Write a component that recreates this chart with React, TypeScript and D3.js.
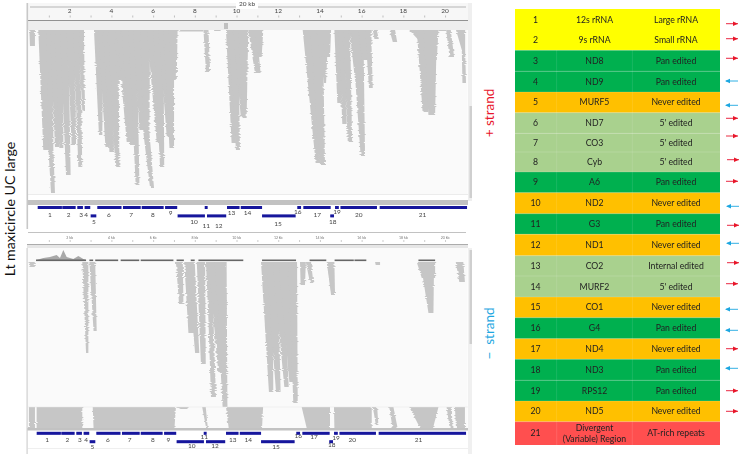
import React from "react";
import * as d3 from "d3";

// one stack of reads, traced down through [left kb, right kb, depth in reads]
type Station = [number, number, number];
type Lane = Station[];

const topLanes: Lane[] = [
  [[0.04, 0.31, 0], [0.07, 0.31, 16]],
  [[0.47, 1.03, 0], [0.71, 1.0, 120]],
  [[0.87, 1.19, 0], [0.95, 1.19, 117], [1.08, 1.27, 163]],
  [[1.03, 1.51, 0], [1.27, 1.48, 117]],
  [[1.27, 1.67, 0], [1.48, 1.67, 118]],
  [[1.51, 1.91, 0], [1.8, 2.02, 145]],
  [[1.83, 2.23, 0], [2.07, 2.28, 115]],
  [[2.15, 2.47, 0], [2.39, 2.58, 137]],
  [[2.39, 2.66, 0], [2.58, 2.71, 81]],
  [[3.14, 3.59, 0], [3.38, 3.54, 105]],
  [[3.35, 3.83, 0], [3.69, 3.88, 117]],
  [[3.59, 4.07, 0], [3.88, 4.1, 122]],
  [[3.83, 4.31, 0], [4.16, 4.36, 137]],
  [[4.15, 4.71, 0], [4.26, 4.47, 50]],
  [[4.23, 4.79, 0], [4.71, 4.87, 112]],
  [[4.47, 5.11, 0], [4.87, 5.11, 115]],
  [[4.79, 5.19, 0], [5.14, 5.32, 155]],
  [[5.03, 5.51, 0], [5.32, 5.67, 100]],
  [[5.35, 5.83, 0], [5.51, 5.8, 103], [5.83, 6.02, 158]],
  [[5.67, 6.23, 0], [6.15, 6.31, 112]],
  [[5.99, 6.47, 0], [6.31, 6.51, 137]],
  [[6.23, 6.71, 0], [6.63, 6.82, 107]],
  [[6.47, 6.98, 0], [6.76, 6.98, 118]],
  [[6.71, 7.15, 0], [6.98, 7.11, 50]],
  [[7.19, 8.38, 0], [7.27, 8.38, 1.5]],
  [[8.39, 8.63, 0], [8.51, 8.71, 42]],
  [[8.95, 9.26, 0], [8.95, 9.26, 1]],
  [[9.47, 9.82, 0], [9.74, 9.95, 113]],
  [[9.58, 10.06, 0], [9.95, 10.14, 120]],
  [[9.82, 10.22, 0], [10.18, 10.38, 87]],
  [[10.06, 10.54, 0], [10.27, 10.46, 88]],
  [[10.54, 10.94, 0], [10.86, 11.13, 43]],
  [[10.78, 11.26, 0], [11.02, 11.18, 27]],
  [[13.15, 13.82, 0], [13.77, 13.98, 133]],
  [[13.5, 14.11, 0], [13.98, 14.22, 135]],
  [[13.82, 14.38, 0], [14.17, 14.27, 53]],
  [[14.11, 14.51, 0], [14.22, 14.46, 27]],
  [[14.67, 14.94, 0], [14.81, 15.02, 73]],
  [[14.86, 15.18, 0], [15.05, 15.26, 94]],
  [[15.1, 15.42, 0], [15.31, 15.52, 112]],
  [[15.39, 15.82, 0], [15.66, 15.82, 50]],
  [[15.5, 16.06, 0], [15.93, 16.14, 126]],
  [[15.82, 16.46, 0], [15.98, 16.38, 30]],
  [[16.14, 16.43, 0], [16.33, 16.51, 58]],
  [[16.51, 16.7, 0], [16.59, 16.8, 9]],
  [[17.31, 17.58, 0], [17.47, 17.68, 12]],
  [[18.26, 19.1, 0], [18.7, 19.26, 10]],
  [[18.62, 19.18, 0], [18.9, 19.18, 82]],
  [[18.94, 19.58, 0], [19.18, 19.5, 85]],
  [[19.26, 19.66, 0], [19.42, 19.58, 30]],
  [[19.66, 20.03, 0], [19.66, 20.03, 1]],
  [[20.03, 20.25, 0], [20.19, 20.41, 27]],
  [[20.5, 20.94, 0], [20.78, 20.94, 20], [20.81, 20.98, 53]],
];

const bottomLanes: Lane[] = [
  [[0.0, 0.3, 0], [0.05, 0.3, 5]],
  [[2.58, 2.87, 0], [2.76, 2.87, 91]],
  [[2.92, 3.2, 0], [3.12, 3.27, 69]],
  [[7.07, 7.4, 0], [7.22, 7.43, 42]],
  [[7.47, 7.95, 0], [7.67, 7.99, 71]],
  [[7.62, 7.97, 0], [7.99, 8.19, 91]],
  [[8.07, 8.47, 0], [8.27, 8.5, 102]],
  [[8.51, 8.87, 0], [8.63, 8.87, 58], [8.75, 8.99, 135]],
  [[8.63, 9.18, 0], [9.1, 9.35, 110]],
  [[8.94, 9.5, 0], [9.31, 9.54, 145]],
  [[11.15, 11.7, 0], [11.53, 11.74, 130]],
  [[11.4, 11.95, 0], [11.87, 12.09, 130]],
  [[11.7, 12.2, 0], [12.27, 12.48, 125]],
  [[12.0, 12.5, 0], [12.51, 12.7, 120]],
  [[12.45, 12.88, 0], [12.7, 12.91, 141]],
  [[13.02, 13.3, 0], [13.05, 13.26, 23]],
  [[13.3, 13.55, 0], [13.5, 13.66, 21]],
  [[14.3, 14.67, 0], [14.51, 14.7, 33]],
  [[16.62, 16.86, 0], [16.65, 16.86, 3]],
  [[18.62, 19.5, 0], [18.86, 19.5, 16]],
  [[18.8, 19.45, 0], [19.18, 19.42, 51]],
  [[20.49, 20.85, 0], [20.66, 20.93, 20]],
];

// saturated strip under the lower panel
const stripLanes: Lane[] = [
  [[0.02, 0.31, 0], [0.02, 0.31, 21]],
  [[0.39, 2.58, 0], [0.39, 2.58, 21]],
  [[3.08, 7.07, 0], [3.12, 7.0, 21]],
  [[7.1, 7.7, 0], [7.3, 7.6, 2]],
  [[8.33, 8.5, 0], [8.52, 8.6, 21]],
  [[9.47, 11.25, 0], [9.6, 11.2, 21]],
  [[13.1, 14.46, 0], [13.34, 14.46, 21]],
  [[14.65, 16.46, 0], [14.67, 16.46, 21]],
  [[16.51, 16.72, 0], [16.66, 16.78, 18]],
  [[17.3, 17.5, 0], [17.46, 17.7, 21]],
  [[18.26, 19.66, 0], [18.78, 19.4, 21]],
  [[20.05, 20.3, 0], [20.2, 20.33, 21]],
  [[20.45, 20.93, 0], [20.5, 20.93, 21]],
];

type Pt = [number, number];
const lowerCoverage: Pt[] = [[0.39, 0], [0.71, 2], [1.03, 3], [1.35, 5], [1.51, 2], [1.67, 10], [1.83, 3], [2.15, 1], [2.39, 4], [2.63, 1], [2.76, 0]];
const lowerSegments: number[][] = [[0.36, 2.76], [2.92, 3.1], [3.2, 4.3], [4.42, 5.31], [5.38, 6.95], [7.1, 7.45], [7.78, 7.97], [8.15, 10.3], [11.2, 12.83], [13.48, 14.28], [14.68, 15.6], [15.63, 16.2], [18.7, 19.5]];

const geneNames = d3.range(1, 22).map(String);
const geneStart = [0.44, 1.62, 2.34, 2.69, 2.98, 3.3, 4.53, 5.43, 6.55, 7.15, 8.45, 8.56, 9.52, 10.18, 11.2, 12.89, 13.18, 14.47, 14.7, 14.96, 16.84];
const geneEnd = [1.62, 2.28, 2.63, 2.98, 3.27, 4.48, 5.4, 6.5, 7.15, 8.48, 8.61, 9.5, 10.14, 11.22, 12.83, 13.09, 14.51, 14.67, 14.9, 16.73, 21.05];
const geneLower = [5, 10, 12, 15, 18];
const topLabelKb = [1.03, 1.93, 2.52, 2.77, 3.13, 3.86, 4.92, 5.96, 6.82, 7.94, 8.53, 9.12, 9.74, 10.5, 11.97, 12.91, 13.85, 14.59, 14.8, 15.84, 18.89];
const bottomLabelKb = [0.89, 1.86, 2.47, 2.76, 3.06, 3.81, 4.85, 5.97, 6.71, 7.83, 8.43, 8.94, 9.8, 10.54, 11.87, 12.94, 13.69, 14.54, 14.75, 15.53, 18.7];

const tableGene = ["12s rRNA", "9s rRNA", "ND8", "ND9", "MURF5", "ND7", "CO3", "Cyb", "A6", "ND2", "G3", "ND1", "CO2", "MURF2", "CO1", "G4", "ND4", "ND3", "RPS12", "ND5", "Divergent|(Variable) Region"];
const tableClass = ["Large rRNA", "Small rRNA", "Pan edited", "Pan edited", "Never edited", "5' edited", "5' edited", "5' edited", "Pan edited", "Never edited", "Pan edited", "Never edited", "Internal edited", "5' edited", "Never edited", "Pan edited", "Never edited", "Pan edited", "Pan edited", "Never edited", "AT-rich repeats"];
const tableStrand = [1, 1, 1, -1, -1, 1, 1, 1, 1, -1, 1, -1, 1, 1, -1, -1, 1, -1, 1, 1];
const arrowLag = [0, 0, 0, 0, 0, 0, 0, 1, 0, 1, 1, 1, 1, 0, 0, 0, 0, 0, 0, 0];

const classColor = d3
  .scaleOrdinal<string, string>()
  .domain(["Large rRNA", "Small rRNA", "Pan edited", "Never edited", "5' edited", "Internal edited", "AT-rich repeats"])
  .range(["#ffff00", "#ffff00", "#00b050", "#ffc000", "#a9d18e", "#a9d18e", "#ff5050"]);

// layout
const rowEdges = [9, 30, 50.3, 71.3, 92, 112.7, 133.3, 152, 172, 192.7, 213.7, 234.3, 255.7, 276, 297, 317.7, 338.7, 359.3, 380.3, 401, 421.7, 445];
const arrowRows = [23.7, 38.7, 58.3, 81, 105.3, 118.3, 136, 159.7, 181.3, 206.3, 225.3, 243.3, 262.7, 283.7, 309.3, 330.3, 348.7, 368.3, 390.7, 411.3];
const topLabelY: Record<number, number> = { 5: 222, 9: 213, 10: 222, 11: 226, 12: 226, 13: 213, 14: 213, 15: 224, 16: 212, 18: 222, 19: 212 };
const bottomLabelY: Record<number, number> = { 5: 447, 10: 446, 11: 437, 12: 446, 15: 447, 16: 436, 17: 437, 18: 445, 19: 438 };

const x = d3.scaleLinear().domain([0, 21]).range([28.5, 466.4]);
const xLow = d3.scaleLinear().domain([0, 21]).range([27.5, 465.4]);
const kbTicks = d3.range(1, 21);
const evenTicks = kbTicks.filter((k) => k % 2 === 0);

const READ = "#c6c6c6";
const PANEL = "#fafafa";
const SANS = "Lato, 'Open Sans', sans-serif";

const Pileups = ({ lanes, top }: { lanes: Lane[]; top: number }) => {
  const y = d3.scaleLinear().domain([0, 100]).range([top, top + 100]);
  const area = d3
    .area<Station>()
    .x0((d) => x(d[0]))
    .x1((d) => x(d[1]))
    .y((d) => y(d[2]));
  return (
    <g filter="url(#reads)">
      {lanes.map((s, i) => (
        <path key={i} d={area(s) ?? ""} fill={READ} />
      ))}
    </g>
  );
};

const GeneTrack = ({ scale, rowA, rowB, labelKb, labelY, baseY }: { scale: d3.ScaleLinear<number, number>; rowA: number; rowB: number; labelKb: number[]; labelY: Record<number, number>; baseY: number }) => (
  <g>
    {geneNames.map((g, i) => (
      <rect key={g} x={scale(geneStart[i])} y={geneLower.includes(i + 1) ? rowB : rowA} width={scale(geneEnd[i]) - scale(geneStart[i]) - 0.4} height={3} fill="#14149c" />
    ))}
    {geneNames.map((g, i) => (
      <text key={g} x={x(labelKb[i])} y={(labelY[i + 1] ?? baseY) + 2.2} fontSize={6.5} fontFamily={SANS} fill="#444" textAnchor="middle">
        {g}
      </text>
    ))}
  </g>
);

const App: React.FC = () => {
  const covY = d3.scaleLinear().domain([0, 10]).range([260, 250]);
  const covArea = d3
    .area<Pt>()
    .x((d) => x(d[0]))
    .y0(260)
    .y1((d) => covY(d[1]));

  return (
    <svg width={741} height={454} style={{ position: "absolute", left: 0, top: 0, background: "#fff" }}>
      <defs>
        <filter id="soft" filterUnits="userSpaceOnUse" x={0} y={0} width={741} height={454}>
          <feGaussianBlur stdDeviation={0.35} />
        </filter>
        {/* rough read ends: sideways shift only, in thin horizontal streaks */}
        <filter id="reads" filterUnits="userSpaceOnUse" x={0} y={0} width={741} height={454} colorInterpolationFilters="sRGB">
          <feTurbulence type="fractalNoise" baseFrequency="0.03 0.9" numOctaves={2} seed={4} result="n" />
          <feColorMatrix in="n" type="matrix" values="1 0 0 0 0  0 0 0 0 0  0 0 0 0 0.5  0 0 0 0 1" result="d" />
          <feDisplacementMap in="SourceGraphic" in2="d" scale={3.5} xChannelSelector="R" yChannelSelector="B" />
        </filter>
      </defs>

      <g filter="url(#soft)">
        {/* top ruler */}
        <rect x={27} y={3} width={445} height={19} fill="#f7f7f7" />
        <line x1={30} x2={466} y1={7} y2={7} stroke="#999" strokeWidth={0.7} />
        <rect x={236} y={1} width={22} height={8} fill="#fff" />
        <text x={247} y={6} fontSize={6.5} fontFamily={SANS} fill="#444" textAnchor="middle">20 kb</text>
        {evenTicks.map((k) => (
          <text key={k} x={x(k) - 0.5} y={13} fontSize={6.5} fontFamily={SANS} fill="#444" textAnchor="middle">{k}</text>
        ))}
        {kbTicks.map((k) => (
          <line key={k} x1={x(k)} x2={x(k)} y1={15.5} y2={17.5} stroke="#999" strokeWidth={0.6} />
        ))}
        <line x1={27} x2={468} y1={20.5} y2={20.5} stroke="#777" strokeWidth={0.8} />

        {/* upper panel */}
        <rect x={27} y={21} width={441} height={9} fill="#eeeeee" />
        <rect x={224} y={23} width={4} height={6} fill="#c0c0c0" />
        <rect x={28.5} y={30} width={439} height={165} fill={PANEL} />
        <Pileups lanes={topLanes} top={30} />
        <line x1={28} x2={468} y1={194.5} y2={194.5} stroke="#ececec" />
        <rect x={27} y={200} width={441} height={5} fill="#c2c2c2" />
        <rect x={26.5} y={3} width={1.6} height={226} fill="#c8c8c8" />
        <rect x={468} y={3} width={4} height={198} fill="#efefef" />
        <rect x={469.5} y={106} width={2.5} height={92} fill="#cfcfcf" />

        <GeneTrack scale={x} rowA={206} rowB={214.4} labelKb={topLabelKb} labelY={topLabelY} baseY={215} />

        {/* lower ruler */}
        <line x1={28} x2={466} y1={232.5} y2={232.5} stroke="#999" strokeWidth={0.6} />
        {evenTicks.map((k) => (
          <text key={k} x={x(k) - 0.5} y={239} fontSize={3.5} fontFamily={SANS} fill="#777" textAnchor="middle">{k} kb</text>
        ))}
        {kbTicks.map((k) => (
          <line key={k} x1={x(k)} x2={x(k)} y1={240} y2={242} stroke="#aaa" strokeWidth={0.6} />
        ))}
        <line x1={27} x2={468} y1={244.5} y2={244.5} stroke="#888" strokeWidth={0.7} />
        <rect x={27} y={245} width={441} height={3} fill="#e6e6e6" />

        {/* lower panel */}
        <rect x={27.5} y={248} width={440} height={180} fill={PANEL} />
        <path d={covArea(lowerCoverage) ?? ""} fill="#a8a8a8" />
        {lowerSegments.map((s) => (
          <rect key={s[0]} x={x(s[0])} y={259.5} width={x(s[1]) - x(s[0])} height={1.6} fill="#666" />
        ))}
        <Pileups lanes={bottomLanes} top={262} />
        <Pileups lanes={stripLanes} top={407} />
        <line x1={28} x2={468} y1={407} y2={407} stroke="#e4e4e4" strokeWidth={0.5} />
        <rect x={27} y={428} width={441} height={2.5} fill="#c2c2c2" />
        <rect x={26.5} y={248} width={1.2} height={206} fill="#d0d0d0" />
        <rect x={468} y={248} width={4} height={206} fill="#f0f0f0" />
        <rect x={469.5} y={250} width={2.5} height={94} fill="#cfcfcf" />
        <line x1={28} x2={468} y1={448.5} y2={448.5} stroke="#e4e4e4" strokeWidth={0.6} />

        <GeneTrack scale={xLow} rowA={431.8} rowB={440.2} labelKb={bottomLabelKb} labelY={bottomLabelY} baseY={440} />

        {/* table */}
        {tableClass.map((c, i) => (
          <rect key={i} x={515} y={rowEdges[i]} width={205} height={rowEdges[i + 1] - rowEdges[i]} fill={classColor(c)} />
        ))}
        {rowEdges.slice(2, -1).map((e) => (
          <line key={e} x1={515} x2={720} y1={e} y2={e} stroke="#fff" strokeOpacity={0.25} strokeWidth={0.6} />
        ))}
        {[556.7, 632.3].map((c) => (
          <line key={c} x1={c} x2={c} y1={50} y2={445} stroke="#fff" strokeOpacity={0.18} strokeWidth={0.6} />
        ))}
        {tableClass.map((c, i) => {
          const cy = (rowEdges[i] + rowEdges[i + 1]) / 2 + 3;
          const lines = tableGene[i].split("|");
          return (
            <g key={i} fontSize={8.7} fontFamily={SANS} fill="#222" textAnchor="middle">
              <text x={535.5} y={cy}>{i + 1}</text>
              {lines.map((l, j) => (
                <text key={j} x={594.5} y={cy + (j - (lines.length - 1) / 2) * 11.2}>{l}</text>
              ))}
              <text x={676} y={cy}>{c}</text>
            </g>
          );
        })}

        {/* strand arrows */}
        {tableStrand.map((s, i) => {
          const left = 726 + arrowLag[i];
          const right = left + 12;
          const y = arrowRows[i];
          const color = s > 0 ? "#e8162c" : "#1ea7e1";
          const head = s > 0 ? `${right},${y} ${right - 5},${y - 2.2} ${right - 5},${y + 2.2}` : `${left - 1},${y} ${left + 4},${y - 2.2} ${left + 4},${y + 2.2}`;
          return (
            <g key={i}>
              <line x1={left} x2={right} y1={y} y2={y} stroke={color} strokeWidth={0.9} />
              <polygon points={head} fill={color} />
            </g>
          );
        })}
      </g>

      {/* side titles */}
      <text transform="translate(15,209) rotate(-90)" fontSize={14.2} fontFamily={SANS} fill="#111" textAnchor="middle">Lt maxicircle UC large</text>
      <text transform="translate(494,113) rotate(-90)" fontSize={13.5} fontFamily={SANS} fill="#e8162c" textAnchor="middle">+ strand</text>
      <text transform="translate(494,333.5) rotate(-90)" fontSize={13.5} fontFamily={SANS} fill="#1ea7e1" textAnchor="middle" xmlSpace="preserve">−  strand</text>
    </svg>
  );
};

export default App;
